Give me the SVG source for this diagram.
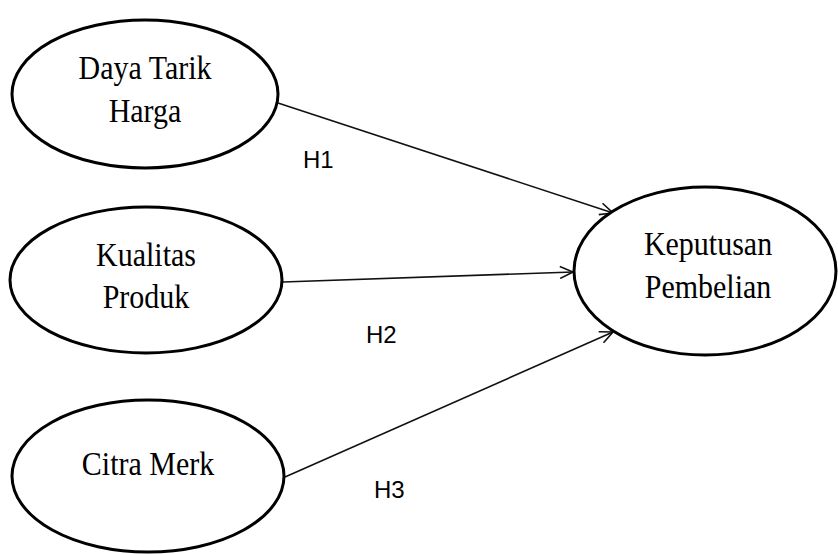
<svg xmlns="http://www.w3.org/2000/svg" width="838" height="554" viewBox="0 0 838 554">
<style>
.node{fill:#fff;stroke:#000;stroke-width:3}
.nt{font-family:"Liberation Serif","DejaVu Serif",serif;font-size:30px;fill:#000;text-anchor:middle}
.conn{stroke:#111;stroke-width:1.6;fill:none;marker-end:url(#arr)}
.hl{font-family:"Liberation Sans",Arial,sans-serif;font-size:24px;fill:#000}
</style>
<defs>
<marker id="arr" markerWidth="16" markerHeight="14" refX="14" refY="7" orient="auto" markerUnits="userSpaceOnUse">
<path d="M1,1 L14,7 L1,13" fill="none" stroke="#111" stroke-width="1.6"/>
</marker>
</defs>
<rect width="838" height="554" fill="#fff"/>
<g id="connectors">
<line class="conn" x1="278" y1="103" x2="613" y2="213"/>
<line class="conn" x1="283" y1="282" x2="573" y2="272"/>
<line class="conn" x1="285" y1="477" x2="613" y2="332"/>
</g>
<g id="node-daya-tarik">
<ellipse class="node" cx="145" cy="94" rx="133" ry="74"/>
<text class="nt" transform="translate(145,79) scale(1,1.15)">Daya Tarik</text>
<text class="nt" transform="translate(145,122) scale(1,1.15)">Harga</text>
</g>
<g id="node-kualitas">
<ellipse class="node" cx="146" cy="280" rx="136" ry="73"/>
<text class="nt" transform="translate(146,266) scale(1,1.15)">Kualitas</text>
<text class="nt" transform="translate(146,308) scale(1,1.15)">Produk</text>
</g>
<g id="node-citra">
<ellipse class="node" cx="148" cy="476" rx="136" ry="76"/>
<text class="nt" transform="translate(148,475) scale(1,1.15)">Citra Merk</text>
</g>
<g id="node-keputusan">
<ellipse class="node" cx="705" cy="271" rx="131" ry="84"/>
<text class="nt" transform="translate(708,255) scale(1,1.15)">Keputusan</text>
<text class="nt" transform="translate(708,298) scale(1,1.15)">Pembelian</text>
</g>
<g id="labels">
<text class="hl" x="303" y="168">H1</text>
<text class="hl" x="366" y="343">H2</text>
<text class="hl" x="374" y="498">H3</text>
</g>
</svg>
